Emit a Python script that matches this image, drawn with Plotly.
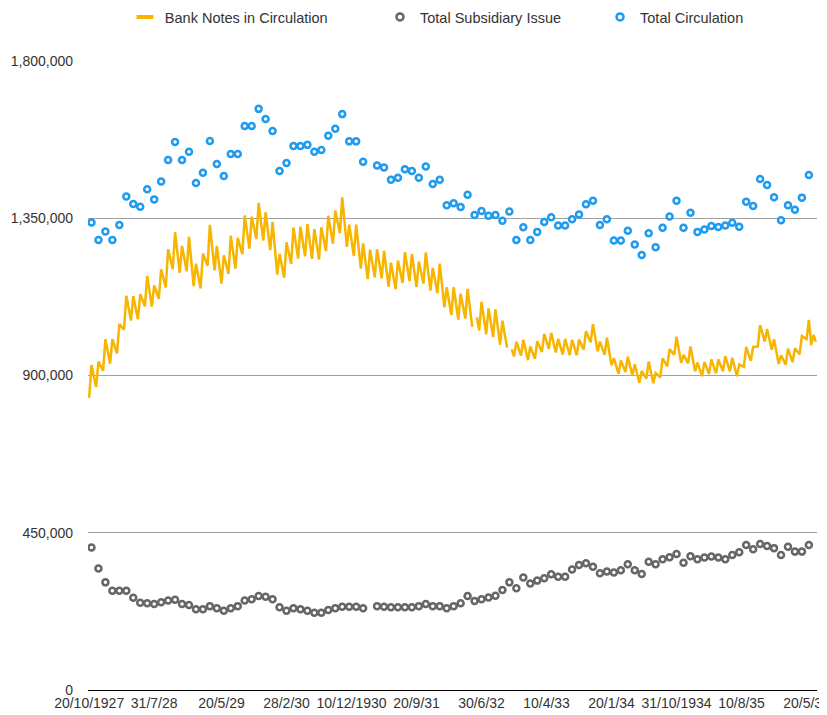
import calendar
import plotly.graph_objects as go

# values in thousands
# bank notes: one value per 10th / 20th / month end, from 20/10/1927 to 30/6/1936
bank_notes = [
    836, 930,
    898, 867, 940, 926, 913, 1004, 969, 934, 1004, 983, 963, 1047,
    1039, 1031, 1128, 1093, 1057, 1127, 1094, 1061, 1133, 1115, 1098, 1185,
    1141, 1097, 1158, 1138, 1119, 1204, 1178, 1152, 1261, 1232, 1204, 1310,
    1252, 1194, 1271, 1235, 1198, 1297, 1226, 1156, 1220, 1185, 1149, 1249,
    1231, 1214, 1331, 1266, 1201, 1271, 1217, 1163, 1244, 1218, 1191, 1300,
    1253, 1206, 1294, 1270, 1247, 1358, 1312, 1263, 1354, 1322, 1291, 1394,
    1340, 1286, 1367, 1313, 1259, 1340, 1264, 1189, 1248, 1214, 1180, 1281,
    1250, 1219, 1323, 1279, 1235, 1326, 1283, 1241, 1333, 1283, 1234, 1319,
    1276, 1232, 1324, 1290, 1256, 1357, 1317, 1277, 1372, 1340, 1307, 1410,
    1339, 1268, 1332, 1287, 1242, 1332, 1269, 1206, 1278, 1227, 1176, 1260,
    1220, 1181, 1261, 1220, 1178, 1257, 1206, 1154, 1223, 1185, 1147, 1229,
    1197, 1165, 1253, 1211, 1170, 1248, 1201, 1153, 1226, 1195, 1163, 1252,
    1197, 1143, 1208, 1172, 1136, 1220, 1158, 1095, 1153, 1113, 1073, 1153,
    1107, 1060, 1134, 1099, 1063, 1148, 1093, 1039, None, 1066, 1029, 1111,
    1065, 1018, 1092, 1051, 1010, 1089, 1038, 988, 1057, 1018, 980, None,
    975, 955, 997, 975, 957, 1002, 974, 944, 983, 966, 948, 998,
    983, 967, 1019, 998, 976, 1022, 994, 966, 1005, 983, 960, 1005,
    982, 958, 1002, 980, 958, 1003, 989, 974, 1027, 1012, 995, 1047,
    1008, 969, 997, 979, 959, 1008, 969, 929, 950, 928, 905, 943,
    927, 910, 954, 927, 899, 932, 906, 879, 913, 902, 891, 940,
    909, 878, 907, 901, 895, 949, 938, 926, 975, 967, 959, 1011,
    974, 936, 959, 947, 935, 983, 948, 912, 937, 918, 898, 939,
    921, 904, 946, 926, 906, 946, 929, 912, 955, 934, 912, 951,
    925, 898, 932, 929, 925, 982, 962, 942, 982, 983, 983, 1044,
    1020, 997, 1033, 1003, 974, 1004, 969, 933, 958, 944, 931, 977,
    957, 938, 978, 970, 961, 1013, 1008, 1004, 1059, 987, 1016, 996,
]

# month-end values, Oct 1927 to May 1936
subsidiary = [
    408, 348, 308, 284, 284, 284, 264, 250, 248, 246,
    251, 256, 258, 246, 243, 231, 231, 240, 234, 227,
    234, 240, 256, 260, 269, 267, 260, 237, 227, 234,
    231, 227, 221, 221, 229, 234, 238, 238, 238, 234,
    None, 240, 238, 237, 237, 237, 237, 240, 246, 240,
    240, 234, 240, 248, 269, 255, 260, 265, 270, 286,
    308, 291, 322, 305, 313, 320, 331, 324, 324, 345,
    358, 363, 353, 334, 339, 336, 343, 360, 343, 332,
    367, 360, 374, 380, 389, 364, 383, 374, 379, 382,
    379, 374, 386, 394, 415, 403, 418, 412, 406, 386,
    410, 396, 396, 415,
]

total_circulation = [
    1338, 1288, 1312, 1288, 1331, 1412, 1391, 1383, 1433, 1404,
    1455, 1517, 1568, 1517, 1540, 1451, 1480, 1571, 1505, 1471,
    1534, 1534, 1614, 1614, 1663, 1634, 1600, 1485, 1508, 1557,
    1557, 1560, 1540, 1545, 1586, 1606, 1648, 1570, 1570, 1512,
    None, 1501, 1495, 1460, 1466, 1490, 1485, 1466, 1498, 1448,
    1460, 1387, 1393, 1382, 1417, 1359, 1371, 1357, 1359, 1343,
    1369, 1288, 1324, 1288, 1311, 1339, 1353, 1329, 1329, 1347,
    1361, 1390, 1400, 1331, 1347, 1286, 1286, 1314, 1275, 1245,
    1307, 1267, 1323, 1355, 1400, 1323, 1366, 1311, 1318, 1328,
    1325, 1329, 1337, 1326, 1397, 1385, 1462, 1445, 1410, 1344,
    1387, 1374, 1409, 1474,
]

tick_dates = ["20/10/1927", "31/7/1928", "20/5/1929", "28/2/1930", "10/12/1930", "20/9/1931",
              "30/6/1932", "10/4/1933", "20/1/1934", "31/10/1934", "10/8/1935", "20/5/1936"]
tick_labels = ["20/10/1927", "31/7/28", "20/5/29", "28/2/30", "10/12/1930", "20/9/31",
               "30/6/32", "10/4/33", "20/1/34", "31/10/1934", "10/8/35", "20/5/36"]
y_ticks = [0, 450000, 900000, 1350000, 1800000]

GOLD = "#F7B500"
GREY = "#666666"
BLUE = "#1D9BF0"
FONT = "Liberation Sans, Arial, sans-serif"
TEXT = "#333333"


def dekad_dates():
    """10th, 20th and last day of each month, 20/10/1927 .. 30/6/1936"""
    dates = ["20/10/1927", "31/10/1927"]
    year, month = 1927, 11
    while (year, month) <= (1936, 6):
        last = calendar.monthrange(year, month)[1]
        for day in (10, 20, last):
            dates.append(f"{day}/{month}/{year}")
        month += 1
        if month > 12:
            year, month = year + 1, 1
    return dates


dates = dekad_dates()
month_ends = [d for i, d in enumerate(dates) if i % 3 == 1][:len(total_circulation)]


def scale(values):
    return [None if v is None else v * 1000 for v in values]


fig = go.Figure()
fig.add_trace(go.Scatter(x=dates, y=scale(bank_notes), mode="lines", name="Bank Notes in Circulation",
                         line=dict(color=GOLD, width=2.5), showlegend=False))
fig.add_trace(go.Scatter(x=month_ends, y=scale(subsidiary), mode="markers", name="Total Subsidiary Issue",
                         marker=dict(symbol="circle", size=6, color="white", line=dict(color=GREY, width=2.5)),
                         showlegend=False))
fig.add_trace(go.Scatter(x=month_ends, y=scale(total_circulation), mode="markers", name="Total Circulation",
                         marker=dict(symbol="circle", size=6, color="white", line=dict(color=BLUE, width=2.5)),
                         showlegend=False))

# legend-only entries, each in its own legend box so they can be placed like the original
fig.add_trace(go.Scatter(x=[None], y=[None], mode="markers", name="Bank Notes in Circulation", legend="legend",
                         marker=dict(symbol="line-ew-open", size=12, color=GOLD, line=dict(color=GOLD, width=4))))
fig.add_trace(go.Scatter(x=[None], y=[None], mode="markers", name="Total Subsidiary Issue", legend="legend2",
                         marker=dict(symbol="circle", size=7, color="white", line=dict(color=GREY, width=2.5))))
fig.add_trace(go.Scatter(x=[None], y=[None], mode="markers", name="Total Circulation", legend="legend3",
                         marker=dict(symbol="circle", size=7, color="white", line=dict(color=BLUE, width=2.5))))

legend_style = dict(orientation="h", xref="container", yref="container", yanchor="middle", y=0.9873,
                    xanchor="left", font=dict(family=FONT, size=14.5, color=TEXT),
                    bgcolor="rgba(0,0,0,0)", itemwidth=30)

# the page body adds an 8px offset, so the figure is 8px smaller than the window
fig.update_layout(
    width=819, height=707,
    margin=dict(l=80, r=10, t=53, b=25, autoexpand=False),
    paper_bgcolor="white", plot_bgcolor="white",
    font=dict(family=FONT, size=14, color=TEXT),
    legend=dict(legend_style, x=0.1427),
    legend2=dict(legend_style, x=0.4542),
    legend3=dict(legend_style, x=0.7229),
    xaxis=dict(type="category", categoryorder="array", categoryarray=dates,
               range=[-0.5, len(dates) - 0.5], tickvals=tick_dates, ticktext=tick_labels,
               showgrid=False, showline=True, linecolor="#000000", linewidth=1, ticks="",
               tickangle=0, automargin=False, tickfont=dict(size=14, color=TEXT)),
    yaxis=dict(range=[0, 1800000], tickvals=y_ticks, tickformat=",", showgrid=True,
               gridcolor="#A0A0A0", gridwidth=1.3, zeroline=False, ticks="", ticklabelstandoff=14,
               automargin=False, tickfont=dict(size=14, color=TEXT)),
    hovermode=False,
)

fig.write_html("out.html")
